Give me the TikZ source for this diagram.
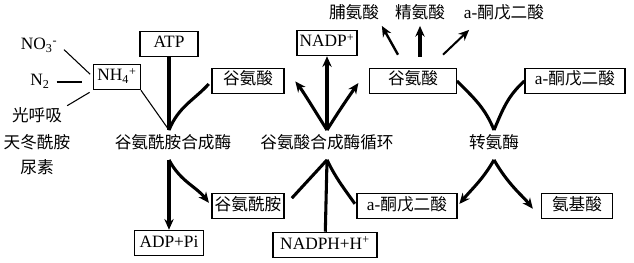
\documentclass[tikz,border=0pt]{standalone}
\usepackage{fontspec}
\setmainfont{Liberation Serif}
\newfontfamily\cjk{Noto Sans CJK SC}[Scale=0.96]
\usetikzlibrary{arrows.meta,calc}
\newcommand\zh[1]{{\cjk #1}}

\begin{document}
\begin{tikzpicture}[x=0.75pt, y=-0.75pt, font=\fontsize{13}{15}\selectfont,
	box/.style={draw, line width=0.9pt, inner xsep=2pt, inner ysep=3.5pt, text height=9pt, text depth=3pt},
	lbl/.style={inner sep=2pt, text height=9pt, text depth=3pt},
	enz/.style={inner xsep=2pt, inner ysep=5pt, text height=9pt, text depth=3pt},
	thin line/.style={line width=0.8pt},
	bold line/.style={line width=2.3pt},
	arr/.style={bold line, -{Stealth[length=8pt,width=7pt]}}]
				\useasboundingbox (0,0) rectangle (634,263);
				\node[lbl] (no3) at (39,46) {NO\textsubscript{3}\textsuperscript{-}};
				\node[lbl] (n2) at (40,82) {N\textsubscript{2}};
				\node[lbl] (guang) at (37,118) {\zh{光呼吸}};
				\node[lbl] (asn) at (37,145) {\zh{天冬酰胺}};
				\node[lbl] (urea) at (37,170) {\zh{尿素}};
				\node[box, minimum width=35pt] (nh4) at (117,77) {NH\textsubscript{4}\textsuperscript{+}};
				\node[box, minimum width=43.5pt] (atp) at (169,44) {ATP};
				\node[box, minimum width=54pt] (glu1) at (248,81) {\zh{谷氨酸}};
				\node[enz] (gs) at (173,145) {\zh{谷氨酰胺合成酶}};
				\node[box, minimum width=54pt] (gln) at (248,206) {\zh{谷氨酰胺}};
				\node[box, minimum width=52pt] (adp) at (169,243) {ADP+Pi};
				\node[box, minimum width=44pt] (nadp) at (327,43) {NADP\textsuperscript{+}};
				\node[enz] (cyc) at (327,145) {\zh{谷氨酸合成酶循环}};
				\node[box, minimum width=78pt] (nadph) at (325,245) {NADPH+H\textsuperscript{+}};
				\node[box, minimum width=75pt] (akg1) at (407,206) {a-\zh{酮戊二酸}};
				\node[lbl] (pro) at (354,15) {\zh{脯氨酸}};
				\node[lbl] (arg) at (420,15) {\zh{精氨酸}};
				\node[lbl] (akg0) at (504,15) {a-\zh{酮戊二酸}};
				\node[box, minimum width=65pt] (glu2) at (413,81) {\zh{谷氨酸}};
				\node[box, minimum width=75pt] (akg2) at (575,81) {a-\zh{酮戊二酸}};
				\node[enz] (trans) at (494,145) {\zh{转氨酶}};
				\node[box, minimum width=53pt] (aa) at (577,206) {\zh{氨基酸}};
				\draw[thin line, shorten <=4pt, shorten >=3pt] (no3.east) -- (nh4.west);
				\draw[thin line, shorten <=3pt, shorten >=8pt] (n2.east) -- (n2.east -| nh4.west);
				\draw[thin line, shorten <=2pt, shorten >=3pt] (guang.north east) -- (nh4.south west);
				\draw[thin line] (nh4.south east) -- (gs.north -| atp);
				\draw[bold line] (atp) -- (gs.north -| atp);
				\draw[bold line, shorten <=3pt] (glu1.west) to[out=228, in=68] (gs.north -| atp);
				\draw[arr] (gs.south -| atp) -- (adp);
				\draw[arr, shorten >=3pt] (gs.south -| atp) to[out=-62, in=128] (gln.west);
				\draw[arr] (cyc.north) -- (nadp);
				\draw[arr, shorten >=13pt] (cyc.north) to[out=122, in=-52] (glu1.north east);
				\draw[arr, shorten >=14pt] (cyc.north) to[out=58, in=-125] (glu2.north west);
				\draw[bold line, shorten >=8pt] (cyc.south) -- (gln.east);
				\draw[bold line] (cyc.south) -- (nadph);
				\draw[bold line, shorten >=2pt] (cyc.south) to[out=-64, in=125] (akg1.west);
				\draw[arr, line width=1.8pt] ([shift={(-15,-13)}]glu2.north) -- (pro.south east);
				\draw[arr, line width=3pt] ($(arg.south |- glu2.north)+(0,-11)$) -- (arg.south);
				\draw[arr, line width=1.5pt] ([shift={(30,-13)}]glu2.north) -- ([shift={(8,4)}]akg0.south west);
				\draw[bold line] (glu2.east) to[out=-45, in=112] (trans.north);
				\draw[bold line] (akg2.west) to[out=222, in=67] (trans.north);
				\draw[arr, shorten >=2pt] (trans.south) to[out=-120, in=50] (akg1.east);
				\draw[arr, shorten >=10pt] (trans.south) to[out=-60, in=128] (aa.south west);
			\end{tikzpicture}
\end{document}
